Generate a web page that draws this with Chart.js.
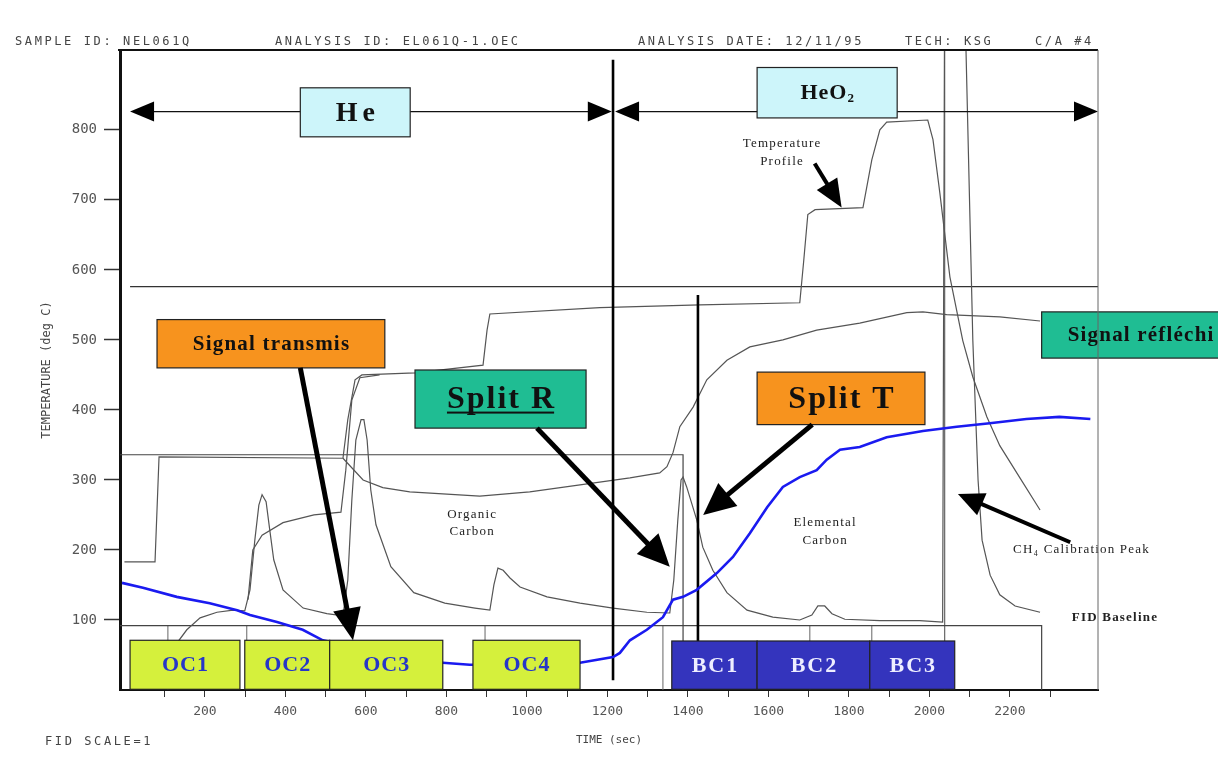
<!DOCTYPE html>
<html><head><meta charset="utf-8">
<script src="https://cdn.jsdelivr.net/npm/chart.js@4.4.1/dist/chart.umd.min.js"></script>
<style>html,body{margin:0;padding:0;background:#fff;overflow:hidden}</style>
</head><body>
<canvas id="c" width="1218" height="769"></canvas>
<script>
// ---------- data (time in s, temperature scale in deg C) ----------
const xTickValues = [100,200,300,400,500,600,700,800,900,1000,1100,1200,1300,1400,1500,1600,1700,1800,1900,2000,2100,2200,2300];
const xTickLabels = ['','200','','400','','600','','800','','1000','','1200','','1400','','1600','','1800','','2000','','2200',''];
const yTickValues = [100,200,300,400,500,600,700,800];
const yTickLabels = ['100','200','300','400','500','600','700','800'];

const temperatureTime  = [0,76,86,543,555,573,590,722,891,901,908,1181,1430,1678,1688,1698,1716,1835,1857,1877,1894,1996,2009,2026,2051,2083,2108,2143,2175,2225,2275];
const temperatureValue = [183,183,333,331,386,443,450,453,464,514,537,546,550,553,614,679,686,689,757,800,811,814,786,710,590,499,447,390,349,303,257];

const reflectedTime  = [543,593,642,709,883,1007,1132,1256,1330,1348,1363,1380,1413,1447,1497,1554,1636,1720,1827,1944,1984,2043,2175,2275];
const reflectedValue = [331,300,289,283,277,283,293,303,310,319,339,376,404,443,471,490,500,514,524,539,540,536,533,527];

const secondTime  = [307,319,342,394,471,538,550,565,585,634];
const secondValue = [129,200,221,239,250,254,314,414,446,450];

const fidTime  = [63,133,155,188,230,270,299,312,324,334,342,352,361,371,394,444,503,543,555,565,575,588,595,603,612,625,662,719,796,871,908,918,928,941,958,983,1050,1132,1214,1298,1355,1365,1375,1383,1388,1397,1422,1437,1462,1497,1547,1611,1678,1708,1723,1740,1758,1790,1877,1976,2033,2039,2086,2091,2108,2121,2131,2151,2175,2213,2275];
const fidValue = [43,69,86,103,111,114,113,143,214,264,279,269,229,186,143,117,109,106,157,271,357,386,386,357,286,236,176,139,124,117,114,150,174,171,160,147,133,124,117,111,110,157,243,300,304,290,243,204,171,139,114,104,100,107,120,120,109,101,99,99,97,1200,1200,914,499,300,214,164,136,120,111];

const blueTime  = [-6,46,130,212,280,312,379,443,493,511,634,791,858,983,1132,1214,1231,1256,1298,1338,1363,1388,1422,1472,1512,1554,1597,1636,1678,1720,1745,1778,1827,1894,1984,2068,2150,2241,2323,2400];
const blueValue = [153,146,133,124,114,107,97,86,71,69,40,39,36,36,39,47,53,71,86,104,129,133,143,167,190,224,261,290,304,314,329,343,347,361,370,376,381,387,390,387];

// straight reference lines
const upperLineTime = [14,2419];            const upperLineValue = [576,576];
const frameLineTime = [-11,1388,1388];      const frameLineValue = [336,336,0];
const baseLineTime  = [-11,2279,2279];      const baseLineValue  = [92,92,0];
const calibLineTime = [2038,2038];          const calibLineValue = [0,914];
const markTime  = [108,108,108,304,304,304,896,896,896,1338,1338,1338,1703,1703,1703,1857,1857,1857];
const markValue = [0,92,null,0,92,null,0,92,null,0,92,null,0,92,null,0,92,null];
const splitLineTime  = [1214,1214,1214,1425,1425];
const splitLineValue = [14,900,null,0,564];

// ---------- annotations (data coordinates) ----------
const phaseArrows = [ {t0:14, t1:1211, v:826}, {t0:1219, t1:2419, v:826} ];
const labelBoxes = [
  {text:'He', t0:437, t1:710, v0:790, v1:860, fill:'#cdf5fa', color:'#111', size:28, sp:5},
  {text:'HeO', sub:'2', t0:1572, t1:1920, v0:817, v1:889, fill:'#cdf5fa', color:'#111', size:22, sp:1},
  {text:'Signal transmis', t0:81, t1:647, v0:460, v1:529, fill:'#f7931e', color:'#111', size:21, sp:1.2},
  {text:'Split R', t0:722, t1:1147, v0:374, v1:457, fill:'#1fbd93', color:'#111', size:32, sp:2, underline:true},
  {text:'Split T', t0:1572, t1:1989, v0:379, v1:454, fill:'#f7931e', color:'#111', size:32, sp:2},
  {text:'Signal réfléchi', t0:2279, t1:2760, v0:474, v1:540, fill:'#1fbd93', color:'#111', size:21, sp:1.2, left:26},
  {text:'OC1', t0:14, t1:287, v0:1, v1:71, fill:'#d5f03c', color:'#2636c8', size:22, sp:1},
  {text:'OC2', t0:299, t1:510, v0:1, v1:71, fill:'#d5f03c', color:'#2636c8', size:22, sp:1},
  {text:'OC3', t0:510, t1:791, v0:1, v1:71, fill:'#d5f03c', color:'#2636c8', size:22, sp:1},
  {text:'OC4', t0:866, t1:1132, v0:1, v1:71, fill:'#d5f03c', color:'#2636c8', size:22, sp:1},
  {text:'BC1', t0:1360, t1:1572, v0:1, v1:70, fill:'#3434bd', color:'#eef', size:22, sp:2},
  {text:'BC2', t0:1572, t1:1852, v0:1, v1:70, fill:'#3434bd', color:'#eef', size:22, sp:2},
  {text:'BC3', t0:1852, t1:2063, v0:1, v1:70, fill:'#3434bd', color:'#eef', size:22, sp:2}
];
const pointerArrows = [
  {t0:437, v0:460, t1:568, v1:71, w:5, head:32, half:14},
  {t0:1025, v0:374, t1:1355, v1:176, w:5, head:32, half:15},
  {t0:1709, v0:379, t1:1438, v1:250, w:5, head:32, half:15},
  {t0:1715, v0:752, t1:1782, v1:689, w:4, head:28, half:12},
  {t0:2350, v0:211, t1:2071, v1:280, w:4, head:26, half:12}
];
const notes = [
  {lines:['Temperature','Profile'], t:1634, v:[781,754], align:'center'},
  {lines:['Organic','Carbon'], t:864, v:[250,226], align:'center'},
  {lines:['Elemental','Carbon'], t:1741, v:[239,213], align:'center'},
  {lines:['CH₄ Calibration Peak'], t:2208, v:[200], align:'left'},
  {lines:['FID Baseline'], t:2354, v:[104], align:'left', bold:true}
];
const headerItems = [
  ['SAMPLE ID: NEL061Q',15],['ANALYSIS ID: EL061Q-1.OEC',275],['ANALYSIS DATE: 12/11/95',638],['TECH: KSG',905],['C/A #4',1035]
];

const pts = (t,v) => t.map((x,i)=>({x:x, y:v[i]}));
const line = (label,t,v,color,w) => ({label, data:pts(t,v), borderColor:color, borderWidth:w, pointRadius:0, fill:false, tension:0, spanGaps:false});

function drawArrow(ctx,x0,y0,x1,y1,w,head,half){
  const a=Math.atan2(y1-y0,x1-x0), c=Math.cos(a), s=Math.sin(a);
  const bx=x1-c*head, by=y1-s*head;
  ctx.strokeStyle='#000'; ctx.fillStyle='#000'; ctx.lineWidth=w; ctx.lineCap='butt';
  ctx.beginPath(); ctx.moveTo(x0,y0); ctx.lineTo(bx+c*2,by+s*2); ctx.stroke();
  ctx.beginPath(); ctx.moveTo(x1,y1); ctx.lineTo(bx-s*half,by+c*half); ctx.lineTo(bx+s*half,by-c*half); ctx.closePath(); ctx.fill();
}

const annot = {
  id:'annot',
  afterDatasetsDraw(chart){
    const ctx=chart.ctx, X=v=>chart.scales.x.getPixelForValue(v), Y=v=>chart.scales.y.getPixelForValue(v);
    ctx.save();
    // phase double arrows
    phaseArrows.forEach(p=>{
      const x0=X(p.t0), x1=X(p.t1), y=Y(p.v);
      ctx.strokeStyle='#111'; ctx.lineWidth=1.3;
      ctx.beginPath(); ctx.moveTo(x0+20,y); ctx.lineTo(x1-20,y); ctx.stroke();
      ctx.fillStyle='#000';
      ctx.beginPath(); ctx.moveTo(x0,y); ctx.lineTo(x0+24,y-10); ctx.lineTo(x0+24,y+10); ctx.closePath(); ctx.fill();
      ctx.beginPath(); ctx.moveTo(x1,y); ctx.lineTo(x1-24,y-10); ctx.lineTo(x1-24,y+10); ctx.closePath(); ctx.fill();
    });
    // boxes
    labelBoxes.forEach(b=>{
      const x0=X(b.t0), x1=X(b.t1), y0=Y(b.v1), y1=Y(b.v0);
      ctx.fillStyle=b.fill; ctx.fillRect(x0,y0,x1-x0,y1-y0);
      ctx.strokeStyle='#222'; ctx.lineWidth=1.2; ctx.strokeRect(x0,y0,x1-x0,y1-y0);
      ctx.font='bold '+b.size+'px "Liberation Serif", "DejaVu Serif", serif';
      ctx.letterSpacing=b.sp+'px';
      ctx.fillStyle=b.color; ctx.textBaseline='middle';
      const cy=(y0+y1)/2+1;
      let w=ctx.measureText(b.text).width - b.sp;
      let subW=0;
      if(b.sub){ ctx.font='bold '+Math.round(b.size*0.6)+'px "Liberation Serif", serif'; subW=ctx.measureText(b.sub).width; ctx.font='bold '+b.size+'px "Liberation Serif", serif'; }
      const tx = b.left!==undefined ? x0+b.left : (x0+x1)/2-(w+subW)/2;
      ctx.textAlign='left';
      ctx.fillText(b.text,tx,cy);
      if(b.sub){ ctx.font='bold '+Math.round(b.size*0.6)+'px "Liberation Serif", serif'; ctx.fillText(b.sub,tx+w+b.sp,cy+5); }
      if(b.underline){ ctx.fillRect(tx,cy+b.size*0.36,w,2); }
    });
    ctx.letterSpacing='0px';
    // notes
    notes.forEach(n=>{
      ctx.font=(n.bold?'bold ':'')+'13px "Liberation Serif", "DejaVu Serif", serif';
      ctx.letterSpacing='1.2px'; ctx.fillStyle='#222'; ctx.textBaseline='middle'; ctx.textAlign=n.align;
      n.lines.forEach((s,i)=>ctx.fillText(s,X(n.t),Y(n.v[i])));
    });
    ctx.letterSpacing='0px';
    // pointer arrows
    pointerArrows.forEach(a=>drawArrow(ctx,X(a.t0),Y(a.v0),X(a.t1),Y(a.v1),a.w,a.head,a.half));
    ctx.restore();
  },
  afterDraw(chart){
    const ctx=chart.ctx, ca=chart.chartArea;
    ctx.save();
    ctx.strokeStyle='#111'; ctx.lineWidth=2;
    ctx.beginPath(); ctx.moveTo(ca.left-2,ca.top); ctx.lineTo(ca.right,ca.top); ctx.stroke();
    ctx.strokeStyle='#666'; ctx.lineWidth=1;
    ctx.beginPath(); ctx.moveTo(ca.right,ca.top); ctx.lineTo(ca.right,ca.bottom); ctx.stroke();
    ctx.font='12px "DejaVu Sans Mono", monospace'; ctx.letterSpacing='2.6px';
    ctx.fillStyle='#444'; ctx.textBaseline='middle'; ctx.textAlign='left';
    headerItems.forEach(h=>ctx.fillText(h[0],h[1],42));
    ctx.fillText('FID SCALE=1',45,742);
    ctx.letterSpacing='0px';
    ctx.restore();
  }
};

new Chart(document.getElementById('c'),{
  type:'line',
  data:{datasets:[
    line('Signal transmis (bleu)', blueTime, blueValue, '#1a1af0', 2.6),
    line('Split lines', splitLineTime, splitLineValue, '#000', 2.6),
    line('Temperature', temperatureTime, temperatureValue, '#555', 1.2),
    line('Signal réfléchi', reflectedTime, reflectedValue, '#555', 1.2),
    line('Second signal', secondTime, secondValue, '#555', 1.2),
    line('FID', fidTime, fidValue, '#555', 1.2),
    line('Upper line', upperLineTime, upperLineValue, '#333', 1.2),
    line('Frame', frameLineTime, frameLineValue, '#444', 1.2),
    line('FID baseline', baseLineTime, baseLineValue, '#444', 1.2),
    line('Calibration marker', calibLineTime, calibLineValue, '#666', 1.2),
    line('Marks', markTime, markValue, '#666', 1)
  ]},
  options:{
    responsive:false, animation:false, devicePixelRatio:1,
    layout:{padding:{left:0,top:50,right:120,bottom:0}},
    plugins:{legend:{display:false}, tooltip:{enabled:false}},
    scales:{
      x:{type:'linear', min:-11, max:2419,
        afterBuildTicks:s=>{s.ticks=xTickValues.map(v=>({value:v}));},
        afterFit:s=>{s.height=79;},
        ticks:{autoSkip:false, maxRotation:0, minRotation:0, padding:7, color:'#555',
          font:{family:'"DejaVu Sans Mono", monospace', size:13},
          callback:(v,i)=>xTickLabels[i]},
        grid:{drawOnChartArea:false, drawTicks:true, tickLength:7, tickColor:'#333', tickWidth:1},
        border:{display:true, color:'#111', width:2},
        title:{display:true, text:'TIME (sec)', color:'#444', font:{family:'"DejaVu Sans Mono", monospace', size:11}, padding:{top:0,bottom:22}}
      },
      y:{type:'linear', min:0, max:914,
        afterBuildTicks:s=>{s.ticks=yTickValues.map(v=>({value:v}));},
        afterFit:s=>{s.width=120;},
        ticks:{padding:7, color:'#555', font:{family:'"DejaVu Sans Mono", monospace', size:14},
          callback:(v,i)=>yTickLabels[i]},
        grid:{drawOnChartArea:false, drawTicks:true, tickLength:16, tickColor:'#333', tickWidth:1.5},
        border:{display:true, color:'#111', width:3},
        title:{display:true, text:'TEMPERATURE (deg C)', color:'#444', font:{family:'"DejaVu Sans Mono", monospace', size:12}, padding:{top:40,bottom:0}}
      }
    }
  },
  plugins:[annot]
});
</script>
</body></html>
